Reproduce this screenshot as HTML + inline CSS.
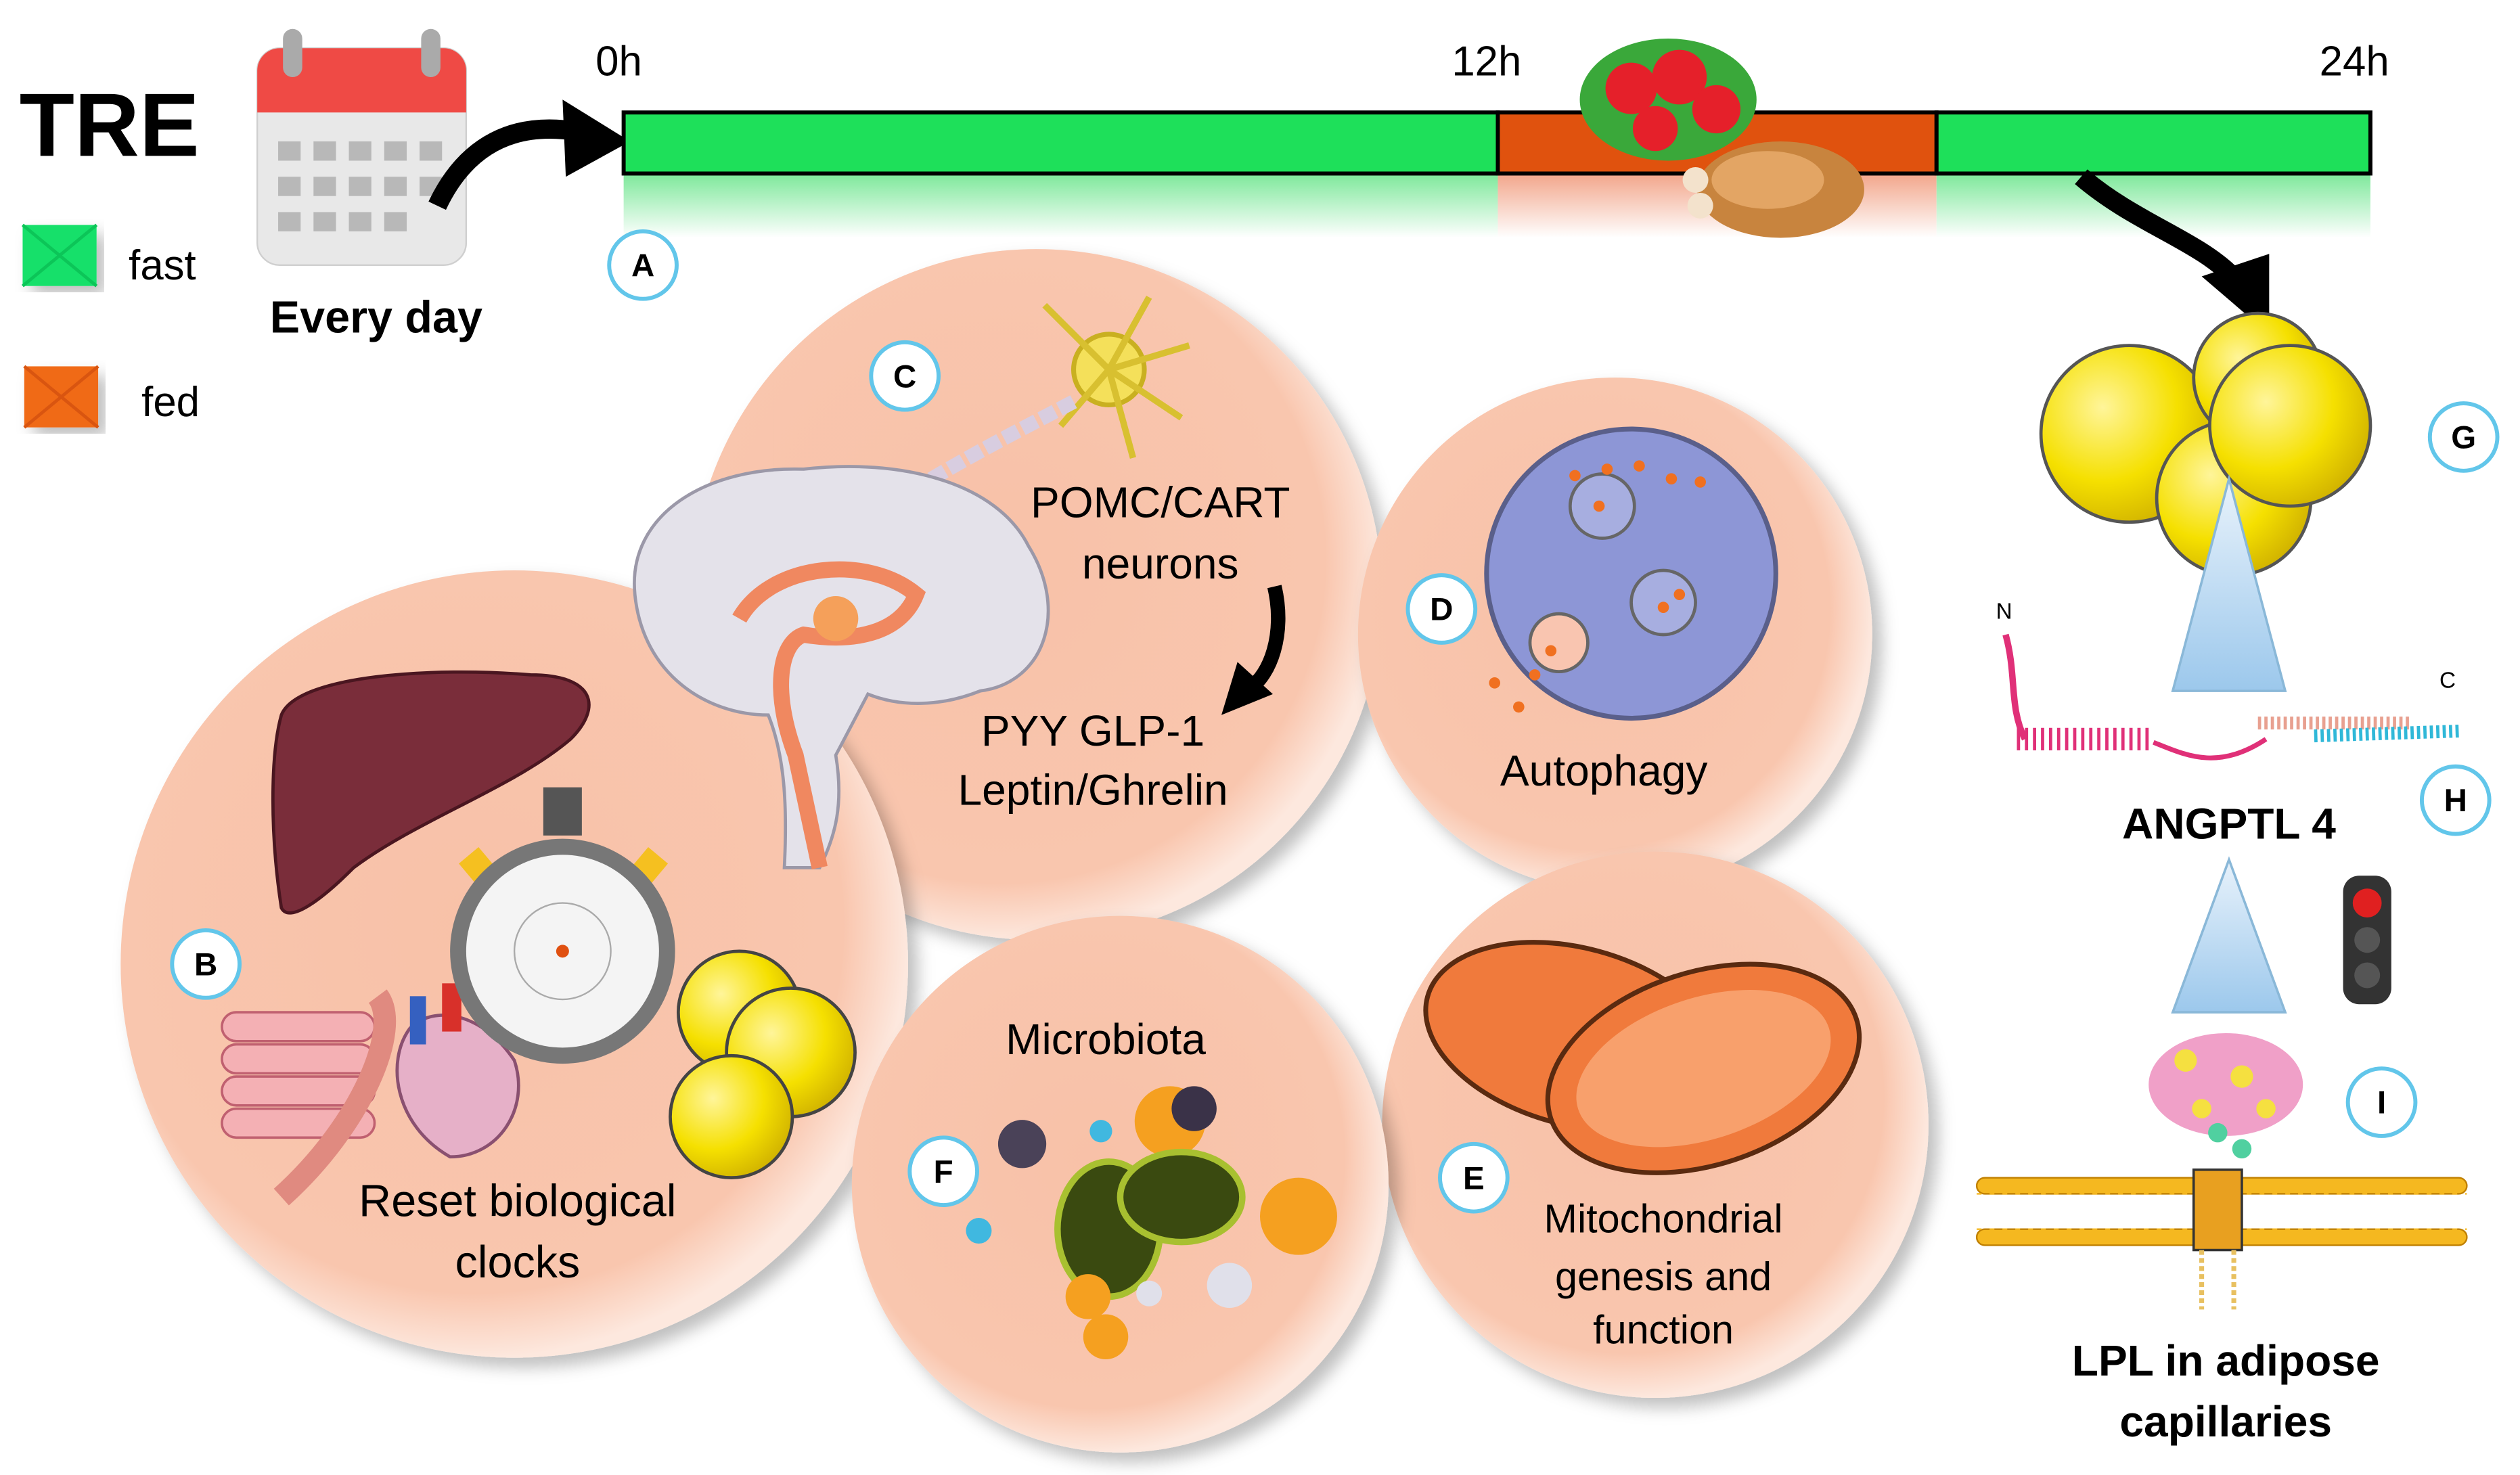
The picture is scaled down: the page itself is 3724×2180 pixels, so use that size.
<!DOCTYPE html>
<html><head><meta charset="utf-8"><style>
html,body{margin:0;padding:0;background:#fff;}
svg{display:block;}
text{font-family:"Liberation Sans",sans-serif;}
</style></head><body>
<svg width="3724" height="2180" viewBox="0 0 1568 918" xmlns="http://www.w3.org/2000/svg">
<defs>
<radialGradient id="cg" cx="0.45" cy="0.45" r="0.55">
<stop offset="0" stop-color="#f8c1a8"/><stop offset="0.85" stop-color="#f9c6ae"/><stop offset="1" stop-color="#fde8de"/>
</radialGradient>
<linearGradient id="fadeG" x1="0" y1="0" x2="0" y2="1"><stop offset="0" stop-color="#7de89a"/><stop offset="1" stop-color="#fff"/></linearGradient>
<linearGradient id="fadeO" x1="0" y1="0" x2="0" y2="1"><stop offset="0" stop-color="#f2a58a"/><stop offset="1" stop-color="#fff"/></linearGradient>
<radialGradient id="yel" cx="0.35" cy="0.35" r="0.7"><stop offset="0" stop-color="#fff59a"/><stop offset="0.6" stop-color="#f5e000"/><stop offset="1" stop-color="#d2b400"/></radialGradient>
<linearGradient id="tri" x1="0" y1="0" x2="0" y2="1"><stop offset="0" stop-color="#e8f2fb"/><stop offset="1" stop-color="#9cc8ec"/></linearGradient>
<filter id="sh"><feDropShadow dx="6" dy="6" stdDeviation="5" flood-color="#000" flood-opacity="0.25"/></filter>
</defs>

<!-- TRE / legend -->
<text x="12" y="97" font-size="56" font-weight="bold">TRE</text>
<rect x="14" y="140" width="46" height="38" fill="#18e06a" filter="url(#sh)"/>
<path d="M14 140 L37 159 L60 140 M14 178 L37 159 L60 178" stroke="#0cc558" stroke-width="2" fill="none"/>
<text x="80" y="174" font-size="26">fast</text>
<rect x="15" y="228" width="46" height="38" fill="#f06a18" filter="url(#sh)"/>
<path d="M15 228 L38 247 L61 228 M15 266 L38 247 L61 266" stroke="#d95510" stroke-width="2" fill="none"/>
<text x="88" y="259" font-size="26">fed</text>

<!-- calendar -->
<rect x="160" y="30" width="130" height="135" rx="14" fill="#e8e8e8" stroke="#cfcfcf"/>
<path d="M160 70 V44 a14 14 0 0 1 14 -14 H276 a14 14 0 0 1 14 14 V70 Z" fill="#ef4a45"/>
<rect x="176" y="18" width="12" height="30" rx="6" fill="#aaa"/><rect x="262" y="18" width="12" height="30" rx="6" fill="#aaa"/>
<g fill="#b8b8b8">
<rect x="173" y="88" width="14" height="12"/><rect x="195" y="88" width="14" height="12"/><rect x="217" y="88" width="14" height="12"/><rect x="239" y="88" width="14" height="12"/><rect x="261" y="88" width="14" height="12"/>
<rect x="173" y="110" width="14" height="12"/><rect x="195" y="110" width="14" height="12"/><rect x="217" y="110" width="14" height="12"/><rect x="239" y="110" width="14" height="12"/><rect x="261" y="110" width="14" height="12"/>
<rect x="173" y="132" width="14" height="12"/><rect x="195" y="132" width="14" height="12"/><rect x="217" y="132" width="14" height="12"/><rect x="239" y="132" width="14" height="12"/>
</g>
<text x="234" y="207" font-size="28" font-weight="bold" text-anchor="middle">Every day</text>
<path d="M272 128 C290 90 320 75 360 82" stroke="#000" stroke-width="12" fill="none"/>
<polygon points="350,62 392,88 352,110" fill="#000"/>

<!-- timeline -->
<rect x="388" y="108" width="544" height="40" fill="url(#fadeG)"/>
<rect x="932" y="108" width="273" height="40" fill="url(#fadeO)"/>
<rect x="1205" y="108" width="270" height="40" fill="url(#fadeG)"/>
<rect x="388" y="70" width="544" height="38" fill="#1ee05a" stroke="#000" stroke-width="2.5"/>
<rect x="932" y="70" width="273" height="38" fill="#e0520e" stroke="#000" stroke-width="2.5"/>
<rect x="1205" y="70" width="270" height="38" fill="#1ee05a" stroke="#000" stroke-width="2.5"/>
<text x="385" y="47" font-size="26" text-anchor="middle">0h</text>
<text x="925" y="47" font-size="26" text-anchor="middle">12h</text>
<text x="1465" y="47" font-size="26" text-anchor="middle">24h</text>
<!-- food -->
<ellipse cx="1038" cy="62" rx="55" ry="38" fill="#3aa83a"/>
<circle cx="1015" cy="55" r="16" fill="#e5202a"/><circle cx="1045" cy="48" r="17" fill="#e5202a"/><circle cx="1068" cy="68" r="15" fill="#e5202a"/><circle cx="1030" cy="80" r="14" fill="#e5202a"/>
<ellipse cx="1108" cy="118" rx="52" ry="30" fill="#c8843e"/><ellipse cx="1100" cy="112" rx="35" ry="18" fill="#e3a564"/>
<circle cx="1055" cy="112" r="8" fill="#f3e2cc"/><circle cx="1058" cy="128" r="8" fill="#f3e2cc"/>
<!-- arrow to G -->
<path d="M1295 110 C1330 140 1370 150 1392 175" stroke="#000" stroke-width="12" fill="none"/>
<polygon points="1370,172 1412,208 1412,158" fill="#000"/>

<!-- circles -->
<circle cx="645" cy="370" r="215" fill="url(#cg)" filter="url(#sh)"/>
<circle cx="1005" cy="395" r="160" fill="url(#cg)" filter="url(#sh)"/>
<circle cx="320" cy="600" r="245" fill="url(#cg)" filter="url(#sh)"/>
<circle cx="1030" cy="700" r="170" fill="url(#cg)" filter="url(#sh)"/>
<circle cx="697" cy="737" r="167" fill="url(#cg)" filter="url(#sh)"/>

<!-- neuron -->
<circle cx="690" cy="230" r="22" fill="#f4e05a" stroke="#c9b020" stroke-width="3"/>
<g stroke="#d8c030" stroke-width="4" fill="none"><path d="M690 230 L650 190 M690 230 L715 185 M690 230 L740 215 M690 230 L735 260 M690 230 L705 285 M690 230 L660 265"/></g>
<path d="M668 250 C630 270 600 285 560 310" stroke="#d8cde0" stroke-width="9" stroke-dasharray="10 3" fill="none"/>
<!-- brain -->
<path d="M395 370 C390 320 440 290 500 292 C560 285 620 300 640 340 C665 380 650 425 610 430 C585 440 560 440 540 432 L520 470 C525 500 520 520 510 540 L488 540 C490 500 488 470 478 445 C440 445 400 420 395 370 Z" fill="#e4e2ea" stroke="#9b98a8" stroke-width="2"/>
<path d="M460 385 C480 350 540 345 570 370 C560 395 530 400 500 395 C485 400 480 430 495 470 L510 540" stroke="#f08860" stroke-width="10" fill="none"/>
<circle cx="520" cy="385" r="14" fill="#f5a05a"/>
<!-- liver -->
<path d="M175 445 C185 420 270 415 330 420 C370 420 375 440 355 460 C320 490 260 510 220 540 C200 560 180 575 175 565 C168 520 168 470 175 445 Z" fill="#7a2d3a" stroke="#4a1620" stroke-width="2"/>
<!-- muscle -->
<g fill="#f4b0b4" stroke="#c06070" stroke-width="1.5">
<rect x="138" y="630" width="95" height="18" rx="9"/><rect x="138" y="650" width="95" height="18" rx="9"/><rect x="138" y="670" width="95" height="18" rx="9"/><rect x="138" y="690" width="95" height="18" rx="9"/>
</g>
<path d="M235 620 C250 640 225 700 175 745" stroke="#e08a80" stroke-width="14" fill="none"/>
<!-- heart -->
<path d="M255 640 C240 660 245 700 280 720 C310 720 330 690 320 660 C300 630 270 625 255 640 Z" fill="#e6b0c8" stroke="#8a5070" stroke-width="2"/>
<rect x="255" y="620" width="10" height="30" fill="#3560c0"/><rect x="275" y="612" width="12" height="30" fill="#d8302a"/>
<!-- stopwatch -->
<rect x="338" y="490" width="24" height="30" fill="#555"/>
<rect x="290" y="530" width="16" height="20" fill="#f5c020" transform="rotate(-40 298 540)"/>
<rect x="395" y="530" width="16" height="20" fill="#f5c020" transform="rotate(40 403 540)"/>
<circle cx="350" cy="592" r="70" fill="#777"/><circle cx="350" cy="592" r="60" fill="#f4f4f4"/><circle cx="350" cy="592" r="30" fill="none" stroke="#aaa"/><circle cx="350" cy="592" r="4" fill="#e05010"/>
<!-- fat cells B -->
<circle cx="460" cy="630" r="38" fill="url(#yel)" stroke="#444" stroke-width="2"/>
<circle cx="492" cy="655" r="40" fill="url(#yel)" stroke="#444" stroke-width="2"/>
<circle cx="455" cy="695" r="38" fill="url(#yel)" stroke="#444" stroke-width="2"/>
<text x="322" y="757" font-size="28" text-anchor="middle">Reset biological</text>
<text x="322" y="795" font-size="28" text-anchor="middle">clocks</text>

<text x="722" y="322" font-size="27" text-anchor="middle">POMC/CART</text>
<text x="722" y="360" font-size="27" text-anchor="middle">neurons</text>
<path d="M793 365 C800 395 790 420 778 428" stroke="#000" stroke-width="9" fill="none"/>
<polygon points="760,445 770,412 792,432" fill="#000"/>
<text x="680" y="464" font-size="27" text-anchor="middle">PYY GLP-1</text>
<text x="680" y="501" font-size="27" text-anchor="middle">Leptin/Ghrelin</text>

<!-- autophagy -->
<circle cx="1015" cy="357" r="90" fill="#8d96d6" stroke="#5a5f8a" stroke-width="3"/>
<circle cx="997" cy="315" r="20" fill="#a7aee0" stroke="#666" stroke-width="2"/>
<circle cx="1035" cy="375" r="20" fill="#a7aee0" stroke="#666" stroke-width="2"/>
<circle cx="970" cy="400" r="18" fill="#f9c5b0" stroke="#666" stroke-width="2"/>
<g fill="#f07020"><circle cx="980" cy="296" r="3.5"/><circle cx="1000" cy="292" r="3.5"/><circle cx="1020" cy="290" r="3.5"/><circle cx="1040" cy="298" r="3.5"/><circle cx="1058" cy="300" r="3.5"/><circle cx="995" cy="315" r="3.5"/><circle cx="1035" cy="378" r="3.5"/><circle cx="1045" cy="370" r="3.5"/><circle cx="930" cy="425" r="3.5"/><circle cx="945" cy="440" r="3.5"/><circle cx="955" cy="420" r="3.5"/><circle cx="965" cy="405" r="3.5"/></g>
<text x="998" y="489" font-size="27" text-anchor="middle">Autophagy</text>

<!-- mitochondria -->
<ellipse cx="980" cy="645" rx="95" ry="55" fill="#f07a3c" stroke="#5a2a10" stroke-width="3" transform="rotate(15 980 645)"/>
<ellipse cx="1060" cy="665" rx="100" ry="60" fill="#f07a3c" stroke="#5a2a10" stroke-width="3" transform="rotate(-18 1060 665)"/>
<ellipse cx="1060" cy="665" rx="82" ry="44" fill="#f8a06c" transform="rotate(-18 1060 665)"/>
<text x="1035" y="767" font-size="25" text-anchor="middle">Mitochondrial</text>
<text x="1035" y="803" font-size="25" text-anchor="middle">genesis and</text>
<text x="1035" y="836" font-size="25" text-anchor="middle">function</text>

<!-- microbiota -->
<text x="688" y="656" font-size="27" text-anchor="middle">Microbiota</text>
<circle cx="636" cy="712" r="15" fill="#4a4258"/><circle cx="728" cy="698" r="22" fill="#f5a020"/><circle cx="743" cy="690" r="14" fill="#3a3248"/>
<circle cx="685" cy="704" r="7" fill="#40b8e0"/><circle cx="609" cy="766" r="8" fill="#40b8e0"/>
<ellipse cx="690" cy="765" rx="32" ry="42" fill="#3a4a10" stroke="#a8c030" stroke-width="4"/>
<ellipse cx="735" cy="745" rx="38" ry="28" fill="#3a4a10" stroke="#a8c030" stroke-width="4"/>
<circle cx="808" cy="757" r="24" fill="#f5a020"/><circle cx="677" cy="807" r="14" fill="#f5a020"/><circle cx="688" cy="832" r="14" fill="#f5a020"/>
<circle cx="765" cy="800" r="14" fill="#e0e0ea"/><circle cx="715" cy="805" r="8" fill="#e0e0ea"/>

<!-- right side -->
<circle cx="1325" cy="270" r="55" fill="url(#yel)" stroke="#555" stroke-width="2"/>
<circle cx="1390" cy="310" r="48" fill="url(#yel)" stroke="#555" stroke-width="2"/>
<circle cx="1405" cy="235" r="40" fill="url(#yel)" stroke="#555" stroke-width="2"/>
<circle cx="1425" cy="265" r="50" fill="url(#yel)" stroke="#555" stroke-width="2"/>
<polygon points="1387,298 1352,430 1422,430" fill="url(#tri)" stroke="#8ab8d8" stroke-width="1.5"/>
<text x="1242" y="385" font-size="14">N</text><text x="1518" y="428" font-size="14">C</text>
<path d="M1248 395 C1255 420 1250 440 1260 460" stroke="#e03078" stroke-width="4" fill="none"/>
<path d="M1255 460 L1340 460" stroke="#e03078" stroke-width="14" stroke-dasharray="2 3" fill="none"/>
<path d="M1340 462 C1360 470 1380 480 1410 460" stroke="#e03078" stroke-width="3" fill="none"/>
<path d="M1405 450 L1500 450" stroke="#e8a090" stroke-width="8" stroke-dasharray="2 2"/>
<path d="M1440 458 L1530 455" stroke="#30b8d8" stroke-width="8" stroke-dasharray="2 2"/>
<text x="1387" y="522" font-size="27" font-weight="bold" text-anchor="middle">ANGPTL 4</text>
<polygon points="1387,535 1352,630 1422,630" fill="url(#tri)" stroke="#8ab8d8" stroke-width="1.5"/>
<rect x="1458" y="545" width="30" height="80" rx="10" fill="#333"/>
<circle cx="1473" cy="562" r="9" fill="#e02020"/><circle cx="1473" cy="585" r="8" fill="#555"/><circle cx="1473" cy="607" r="8" fill="#555"/>
<!-- protein blob -->
<ellipse cx="1385" cy="675" rx="48" ry="32" fill="#f0a0c8"/>
<g fill="#f5e040"><circle cx="1360" cy="660" r="7"/><circle cx="1395" cy="670" r="7"/><circle cx="1410" cy="690" r="6"/><circle cx="1370" cy="690" r="6"/></g>
<g fill="#50d0a0"><circle cx="1380" cy="705" r="6"/><circle cx="1395" cy="715" r="6"/></g>
<!-- membrane -->
<g fill="#f5b820" stroke="#c08000" stroke-width="1">
<rect x="1230" y="733" width="305" height="10" rx="5"/><rect x="1230" y="765" width="305" height="10" rx="5"/>
</g>
<path d="M1230 743 H1535 M1230 765 H1535" stroke="#f5b820" stroke-width="1" stroke-dasharray="3 5"/>
<rect x="1365" y="728" width="30" height="50" fill="#e8a020" stroke="#333" stroke-width="1.5"/>
<path d="M1370 778 V815 M1390 778 V815" stroke="#e8c060" stroke-width="3" stroke-dasharray="3 2"/>
<text x="1385" y="856" font-size="27" font-weight="bold" text-anchor="middle">LPL in adipose</text>
<text x="1385" y="894" font-size="27" font-weight="bold" text-anchor="middle">capillaries</text>

<!-- labels -->
<g fill="#fff" stroke="#62c6ea" stroke-width="2.5">
<circle cx="400" cy="165" r="21"/><circle cx="563" cy="234" r="21"/><circle cx="897" cy="379" r="21"/><circle cx="128" cy="600" r="21"/><circle cx="587" cy="729" r="21"/><circle cx="917" cy="733" r="21"/><circle cx="1533" cy="272" r="21"/><circle cx="1528" cy="498" r="21"/><circle cx="1482" cy="686" r="21"/>
</g>
<g font-size="20" font-weight="bold" text-anchor="middle">
<text x="400" y="172">A</text><text x="563" y="241">C</text><text x="897" y="386">D</text><text x="128" y="607">B</text><text x="587" y="736">F</text><text x="917" y="740">E</text><text x="1533" y="279">G</text><text x="1528" y="505">H</text><text x="1482" y="693">I</text>
</g>
</svg>
</body></html>
